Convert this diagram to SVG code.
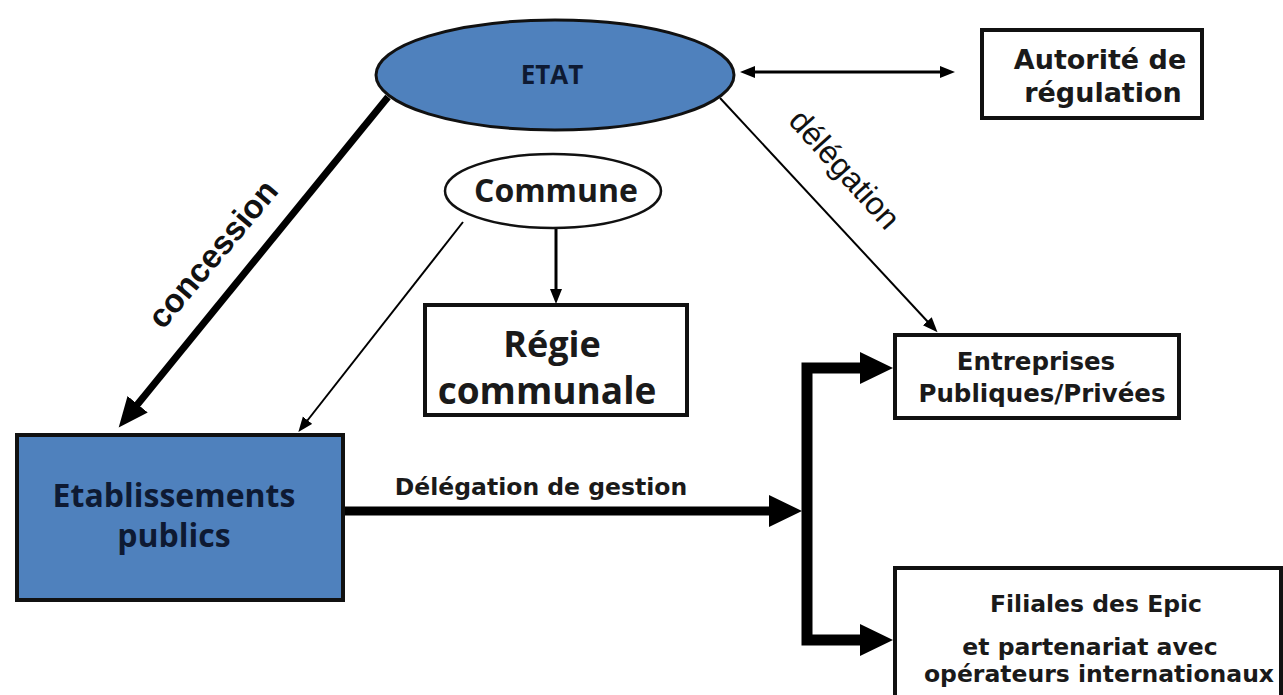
<svg xmlns="http://www.w3.org/2000/svg" width="1283" height="695" viewBox="0 0 1283 695">
  <style>
    .box { fill: #ffffff; stroke: #111111; stroke-width: 4; }
    .blue { fill: #4f81bd; stroke: #111111; stroke-width: 4; }
    .t { font-family: "Open Sans", Lato, "Liberation Sans", sans-serif; font-weight: 700; fill: #1a1a1a; text-anchor: middle; }
    .v { font-family: "DejaVu Sans", Verdana, sans-serif; font-weight: 700; fill: #1a1a1a; text-anchor: middle; }
    .tb { font-family: "Open Sans", Lato, "Liberation Sans", sans-serif; font-weight: 700; fill: #0e1a33; text-anchor: middle; }
    .ar { font-family: "Liberation Sans", Arial, sans-serif; fill: #111111; text-anchor: middle; }
    .ln { fill: none; stroke: #000000; }
  </style>
  <defs>
    <marker id="headBig" markerUnits="userSpaceOnUse" markerWidth="34" markerHeight="34" refX="1" refY="16" orient="auto-start-reverse">
      <path d="M0,0 L33,16 L0,32 z" fill="#000"/>
    </marker>
    <marker id="headMid" markerUnits="userSpaceOnUse" markerWidth="32" markerHeight="28" refX="1" refY="13" orient="auto">
      <path d="M0,0 L30,13 L0,26 z" fill="#000"/>
    </marker>
    <marker id="headSmall" markerUnits="userSpaceOnUse" markerWidth="18" markerHeight="14" refX="1" refY="6" orient="auto-start-reverse">
      <path d="M0,0 L15,6 L0,12 z" fill="#000"/>
    </marker>
  </defs>

  <!-- connectors -->
  <g id="connectors">
    <!-- ETAT to Etablissements publics -->
    <line class="ln" x1="388" y1="97" x2="137" y2="405" stroke-width="7" marker-end="url(#headMid)"/>
    <!-- Commune to Etablissements publics -->
    <line class="ln" x1="463" y1="222" x2="307" y2="421" stroke-width="2" marker-end="url(#headSmall)"/>
    <!-- Commune to Régie communale -->
    <line class="ln" x1="556" y1="229" x2="556" y2="290" stroke-width="3" marker-end="url(#headSmall)"/>
    <!-- ETAT to Entreprises -->
    <line class="ln" x1="720" y1="98" x2="928" y2="322" stroke-width="2" marker-end="url(#headSmall)"/>
    <!-- ETAT and Autorité de régulation -->
    <line class="ln" x1="754" y1="72" x2="941" y2="72" stroke-width="3" marker-start="url(#headSmall)" marker-end="url(#headSmall)"/>
    <!-- Délégation de gestion -->
    <line class="ln" x1="344" y1="511" x2="770" y2="511" stroke-width="9" marker-end="url(#headBig)"/>
    <!-- split towards the two operators -->
    <path class="ln" d="M861,368 H807 V640 H861" stroke-width="11" stroke-linejoin="miter" marker-start="url(#headBig)" marker-end="url(#headBig)"/>

    <text class="ar" font-weight="700" font-size="33" transform="translate(213,254) rotate(-50)" dy="11">concession</text>
    <text class="ar" font-size="32" transform="translate(844,170) rotate(48)" dy="10">délégation</text>
    <text class="v" font-size="23.5" x="541" y="495">Délégation de gestion</text>
  </g>

  <g id="etat">
    <ellipse cx="555" cy="75" rx="179" ry="55" fill="#4f81bd" stroke="#111" stroke-width="3"/>
    <text class="tb" font-size="26" font-weight="600" x="552" y="84">ETAT</text>
  </g>

  <g id="autorite">
    <rect class="box" x="982" y="30" width="220" height="88"/>
    <text class="v" font-size="27" x="1100" y="69">Autorité de</text>
    <text class="v" font-size="27" x="1103" y="102">régulation</text>
  </g>

  <g id="commune">
    <ellipse cx="553" cy="191" rx="108" ry="37" fill="#fff" stroke="#111" stroke-width="2.5"/>
    <text class="t" font-size="32" font-weight="600" x="556" y="202">Commune</text>
  </g>

  <g id="regie">
    <rect class="box" x="425" y="305" width="262" height="110"/>
    <text class="t" font-size="36" x="552" y="357">Régie</text>
    <text class="t" font-size="37" x="547" y="404">communale</text>
  </g>

  <g id="etablissements">
    <rect class="blue" x="17" y="435" width="326" height="165"/>
    <text class="tb" font-size="32" x="174" y="507">Etablissements</text>
    <text class="tb" font-size="32" x="174" y="547">publics</text>
  </g>

  <g id="entreprises">
    <rect class="box" x="895" y="335" width="284" height="83"/>
    <text class="v" font-size="24.5" x="1036" y="370">Entreprises</text>
    <text class="v" font-size="24.5" x="1042" y="402">Publiques/Privées</text>
  </g>

  <g id="filiales">
    <rect class="box" x="895" y="568" width="386" height="140"/>
    <text class="v" font-size="23.5" x="1096" y="612">Filiales des Epic</text>
    <text class="v" font-size="23.5" x="1090" y="655">et partenariat avec</text>
    <text class="v" font-size="23.5" x="1099" y="682">opérateurs internationaux</text>
  </g>
</svg>
